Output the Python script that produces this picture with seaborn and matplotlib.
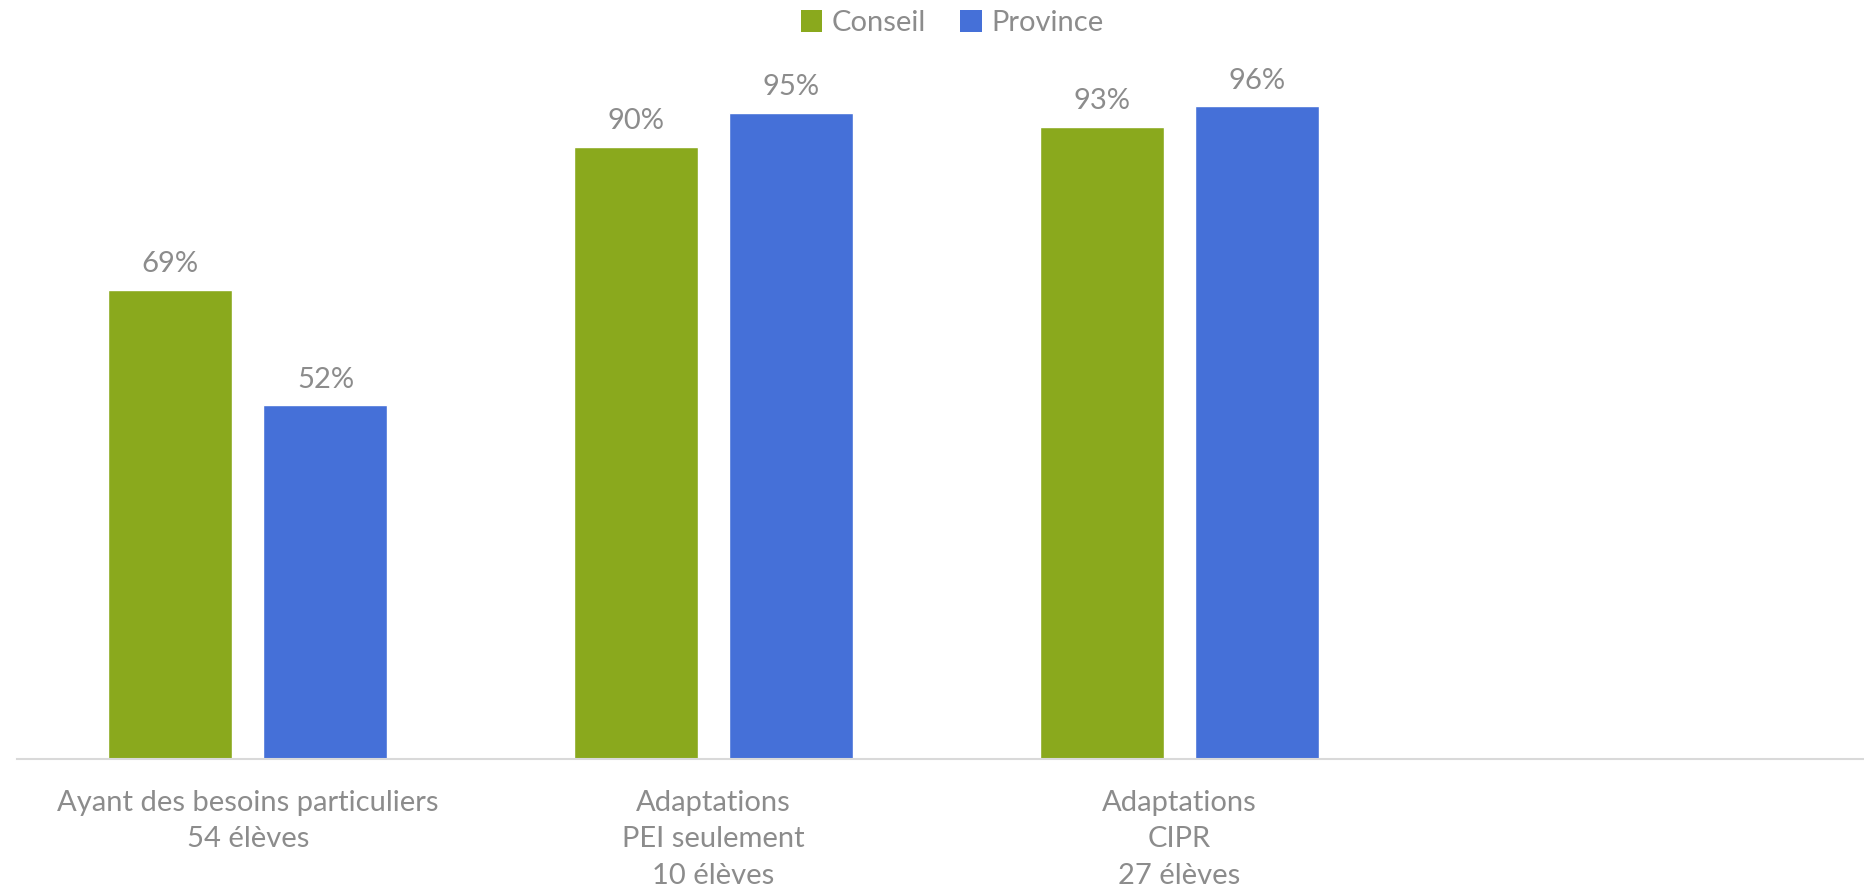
import matplotlib
matplotlib.use("Agg")
import matplotlib.pyplot as plt
import seaborn as sns
import pandas as pd
from matplotlib.patches import Patch

categories = ["Ayant des besoins particuliers\n54 élèves",
              "Adaptations\nPEI seulement\n10 élèves",
              "Adaptations\nCIPR\n27 élèves"]
conseil = [69, 90, 93]
province = [52, 95, 96]
series_names = ["Conseil", "Province"]
colors = ["#8AA91D", "#4570D8"]
text_color = "#8C8C8C"

df = pd.DataFrame({
    "cat": categories * 2,
    "serie": [series_names[0]] * 3 + [series_names[1]] * 3,
    "val": conseil + province,
})

sns.set_theme(style="white")
plt.rcParams["font.family"] = ["Lato", "DejaVu Sans"]

fig = plt.figure(figsize=(18.65, 8.93), dpi=100)
ax = fig.add_axes([17 / 1865, 1 - 759 / 893, 1 - 17 / 1865, (759 - 79) / 893])

sns.barplot(data=df, x="cat", y="val", hue="serie", order=categories,
            hue_order=series_names, palette=colors, width=0.666, gap=0.2,
            saturation=1, ax=ax, legend=False)

for cont in ax.containers:
    ax.bar_label(cont, labels=[f"{v:.0f}%" for v in cont.datavalues],
                 padding=9, fontsize=21, color=text_color)

ax.set_ylim(0, 100)
ax.set_xlim(-0.496, 3.473)
ax.set_xlabel("")
ax.set_ylabel("")
ax.set_yticks([])
for s in ["top", "left", "right"]:
    ax.spines[s].set_visible(False)
ax.spines["bottom"].set_color("#D9D9D9")
ax.spines["bottom"].set_linewidth(1.5)
ax.tick_params(axis="x", length=0, pad=22, labelsize=21, labelcolor=text_color)
for lab in ax.get_xticklabels():
    lab.set_linespacing(1.52)

handles = [Patch(facecolor=c, edgecolor="none") for c in colors]
fig.legend(handles, series_names, loc="center", bbox_to_anchor=(952 / 1865, 1 - 23 / 893),
           ncol=2, frameon=False, fontsize=21, labelcolor=text_color,
           handlelength=0.75, handleheight=0.75, handletextpad=0.3, columnspacing=1.2)

fig.savefig("out.png", dpi=100, facecolor="white")
